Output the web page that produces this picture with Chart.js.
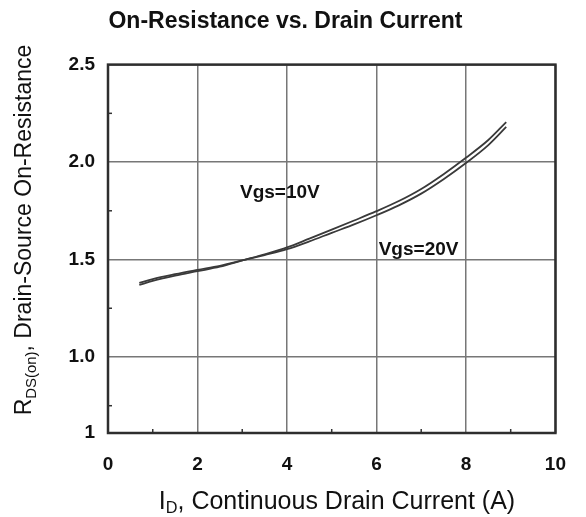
<!DOCTYPE html>
<html>
<head>
<meta charset="utf-8">
<script src="https://cdn.jsdelivr.net/npm/chart.js@4"></script>
<style>
  html, body { margin: 0; padding: 0; background: #fff; }
  #wrap { width: 586px; height: 517px; }
</style>
</head>
<body>
<div id="wrap"><canvas id="rdsChart" width="586" height="517"></canvas></div>
<script>
// values
const currents = [0.7, 1.0, 1.5, 2.0, 2.5, 3.0, 3.5, 4.0, 4.5, 5.0, 5.5, 6.0, 6.5, 7.0, 7.5, 8.0, 8.5, 8.9];
const rdsVgs10 = [1.370, 1.390, 1.417, 1.440, 1.463, 1.495, 1.527, 1.562, 1.607, 1.653, 1.700, 1.748, 1.800, 1.862, 1.938, 2.022, 2.113, 2.205];
const rdsVgs20 = [1.380, 1.400, 1.425, 1.447, 1.468, 1.495, 1.523, 1.553, 1.593, 1.637, 1.680, 1.727, 1.778, 1.838, 1.912, 1.995, 2.087, 2.180];

const xTicks = [0, 2, 4, 6, 8, 10];
const xMinor = [1, 3, 5, 7, 9];
const yTicks = [0.61, 1.0, 1.5, 2.0, 2.5];
const yTickLabels = ['1', '1.0', '1.5', '2.0', '2.5'];
const yMinor = [0.75, 1.25, 1.75, 2.25];

const curveLabels = [
    { text: 'Vgs=10V', x: 2.95, y: 1.845 },
    { text: 'Vgs=20V', x: 6.05, y: 1.552 }
];

const toPoints = (xs, ys) => xs.map((x, i) => ({ x: x, y: ys[i] }));

const frame = {
    id: 'frame',
    afterDatasetsDraw(chart) {
        const { ctx, chartArea: a, scales } = chart;
        ctx.save();
        ctx.strokeStyle = '#333';
        ctx.lineWidth = 1.5;
        xMinor.forEach(v => {
            const px = scales.x.getPixelForValue(v);
            ctx.beginPath(); ctx.moveTo(px, a.bottom); ctx.lineTo(px, a.bottom - 4); ctx.stroke();
        });
        yMinor.forEach(v => {
            const py = scales.y.getPixelForValue(v);
            ctx.beginPath(); ctx.moveTo(a.left, py); ctx.lineTo(a.left + 4, py); ctx.stroke();
        });
        ctx.lineWidth = 2.5;
        ctx.strokeStyle = '#2e2e2e';
        ctx.strokeRect(a.left, a.top, a.right - a.left, a.bottom - a.top);

        // curve labels
        ctx.fillStyle = '#111';
        ctx.font = 'bold 19px "Liberation Sans", Arial, sans-serif';
        ctx.textAlign = 'left';
        ctx.textBaseline = 'middle';
        curveLabels.forEach(l => {
            ctx.fillText(l.text, scales.x.getPixelForValue(l.x), scales.y.getPixelForValue(l.y));
        });
        ctx.restore();
    }
};

// axis titles with subscripts
function drawParts(ctx, parts, size) {
    let w = 0;
    parts.forEach(p => {
        ctx.font = (p.sub ? size * 0.65 : size) + 'px "Liberation Sans", Arial, sans-serif';
        w += ctx.measureText(p.t).width;
    });
    let x = -w / 2;
    parts.forEach(p => {
        ctx.font = (p.sub ? size * 0.65 : size) + 'px "Liberation Sans", Arial, sans-serif';
        ctx.fillText(p.t, x, p.sub ? size * 0.28 : 0);
        x += ctx.measureText(p.t).width;
    });
}

const axisTitles = {
    id: 'axisTitles',
    afterDraw(chart) {
        const { ctx, scales } = chart;
        ctx.save();
        ctx.fillStyle = '#111';
        ctx.textAlign = 'left';
        ctx.textBaseline = 'middle';
        ctx.save();
        ctx.translate(337, 502);
        drawParts(ctx, [{ t: 'I' }, { t: 'D', sub: true }, { t: ', Continuous Drain Current (A)' }], 25);
        ctx.restore();
        ctx.save();
        ctx.translate(25, 230);
        ctx.rotate(-Math.PI / 2);
        drawParts(ctx, [{ t: 'R' }, { t: 'DS(on)', sub: true }, { t: ', Drain-Source On-Resistance' }], 23);
        ctx.restore();
        ctx.restore();
    }
};

const ctx = document.getElementById('rdsChart').getContext('2d');
const rdsChart = new Chart(ctx, {
    type: 'line',
    data: {
        datasets: [{
            label: 'Vgs=10V',
            data: toPoints(currents, rdsVgs10),
            borderColor: '#3a3a3a',
            borderWidth: 1.8,
            pointRadius: 0,
            cubicInterpolationMode: 'monotone',
            fill: false
        }, {
            label: 'Vgs=20V',
            data: toPoints(currents, rdsVgs20),
            borderColor: '#3a3a3a',
            borderWidth: 1.8,
            pointRadius: 0,
            cubicInterpolationMode: 'monotone',
            fill: false
        }]
    },
    options: {
        responsive: false,
        animation: false,
        layout: { padding: { left: 0, right: 15, top: 0, bottom: 0 } },
        plugins: {
            legend: { display: false },
            tooltip: { enabled: false },
            title: {
                display: true,
                text: 'On-Resistance vs. Drain Current',
                color: '#111',
                font: { family: '"Liberation Sans", Arial, sans-serif', size: 23, weight: 'bold', lineHeight: 1.2 },
                padding: { top: 8, bottom: 29 }
            }
        },
        scales: {
            x: {
                type: 'linear',
                min: 0,
                max: 10,
                afterBuildTicks: s => { s.ticks = xTicks.map(v => ({ value: v })); },
                afterFit: s => { s.height = 84; },
                grid: { color: '#777', lineWidth: 1.5, drawTicks: false },
                border: { display: false },
                ticks: {
                    padding: 20,
                    color: '#111',
                    maxRotation: 0,
                    font: { family: '"Liberation Sans", Arial, sans-serif', size: 19, weight: 'bold' }
                }
            },
            y: {
                type: 'linear',
                min: 0.61,
                max: 2.5,
                afterBuildTicks: s => { s.ticks = yTicks.map(v => ({ value: v })); },
                afterFit: s => { s.width = 108; },
                grid: { color: '#777', lineWidth: 1.5, drawTicks: false },
                border: { display: false },
                ticks: {
                    padding: 13,
                    color: '#111',
                    font: { family: '"Liberation Sans", Arial, sans-serif', size: 19, weight: 'bold' },
                    callback: (v, i) => yTickLabels[i]
                }
            }
        }
    },
    plugins: [frame, axisTitles]
});
</script>
</body>
</html>
